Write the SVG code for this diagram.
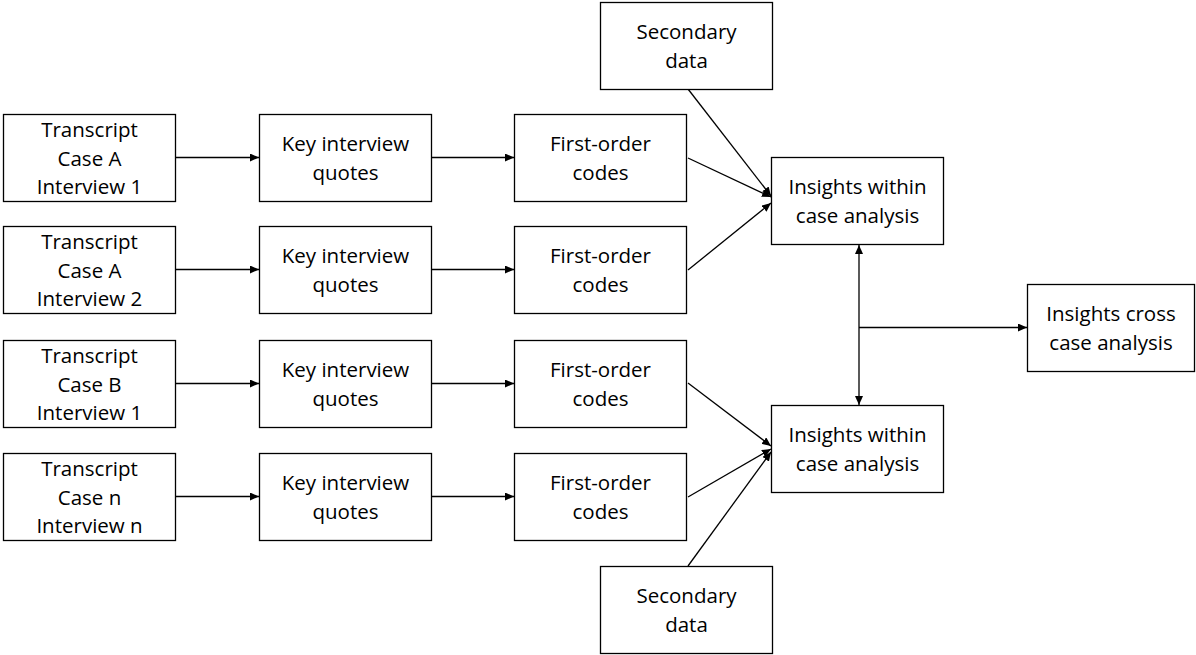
<svg xmlns="http://www.w3.org/2000/svg" width="1196" height="655" viewBox="0 0 1196 655">
<defs>
<style>
.box{fill:#fff;stroke:#000;stroke-width:1.3}
.t{font-family:"Open Sans","Liberation Sans",sans-serif;font-size:20.5px;fill:#000;text-anchor:middle}
.c{stroke:#000;stroke-width:1.3;fill:none;marker-end:url(#ah)}
</style>
<marker id="ah" markerUnits="userSpaceOnUse" markerWidth="9" markerHeight="8" refX="9" refY="4" orient="auto-start-reverse"><path d="M0,0 L9,4 L0,8 z" fill="#000"/></marker>
</defs>
<rect width="1196" height="655" fill="#fff"/>
<g id="connectors">
<line class="c" x1="175" y1="157.5" x2="259" y2="157.5"/>
<line class="c" x1="175" y1="269.5" x2="259" y2="269.5"/>
<line class="c" x1="175" y1="383.5" x2="259" y2="383.5"/>
<line class="c" x1="175" y1="496.5" x2="259" y2="496.5"/>
<line class="c" x1="432" y1="157.5" x2="514" y2="157.5"/>
<line class="c" x1="432" y1="269.5" x2="514" y2="269.5"/>
<line class="c" x1="432" y1="383.5" x2="514" y2="383.5"/>
<line class="c" x1="432" y1="496.5" x2="514" y2="496.5"/>
<line class="c" x1="688" y1="158" x2="771" y2="197"/>
<line class="c" x1="688" y1="89" x2="771" y2="196"/>
<line class="c" x1="688" y1="270" x2="771" y2="203"/>
<line class="c" x1="688" y1="383" x2="771" y2="446"/>
<line class="c" x1="688" y1="497" x2="771" y2="449"/>
<line class="c" x1="688" y1="566" x2="771" y2="452"/>
<line class="c" x1="859" y1="245" x2="859" y2="405" style="marker-start:url(#ah)"/>
<line class="c" x1="859" y1="327.5" x2="1027" y2="327.5"/>
</g>
<g id="transcript-a1"><rect class="box" x="3.5" y="114.5" width="172" height="87"/><text class="t" x="89.5" y="137">Transcript</text><text class="t" x="89.5" y="165.5">Case A</text><text class="t" x="89.5" y="194">Interview 1</text></g>
<g id="transcript-a2"><rect class="box" x="3.5" y="226.5" width="172" height="87"/><text class="t" x="89.5" y="249">Transcript</text><text class="t" x="89.5" y="277.5">Case A</text><text class="t" x="89.5" y="306">Interview 2</text></g>
<g id="transcript-b1"><rect class="box" x="3.5" y="340.5" width="172" height="87"/><text class="t" x="89.5" y="363">Transcript</text><text class="t" x="89.5" y="391.5">Case B</text><text class="t" x="89.5" y="420">Interview 1</text></g>
<g id="transcript-nn"><rect class="box" x="3.5" y="453.5" width="172" height="87"/><text class="t" x="89.5" y="476">Transcript</text><text class="t" x="89.5" y="504.5">Case n</text><text class="t" x="89.5" y="533">Interview n</text></g>
<g id="quotes-1"><rect class="box" x="259.5" y="114.5" width="172" height="87"/><text class="t" x="345.5" y="151">Key interview</text><text class="t" x="345.5" y="179.5">quotes</text></g>
<g id="quotes-2"><rect class="box" x="259.5" y="226.5" width="172" height="87"/><text class="t" x="345.5" y="263">Key interview</text><text class="t" x="345.5" y="291.5">quotes</text></g>
<g id="quotes-3"><rect class="box" x="259.5" y="340.5" width="172" height="87"/><text class="t" x="345.5" y="377">Key interview</text><text class="t" x="345.5" y="405.5">quotes</text></g>
<g id="quotes-4"><rect class="box" x="259.5" y="453.5" width="172" height="87"/><text class="t" x="345.5" y="490">Key interview</text><text class="t" x="345.5" y="518.5">quotes</text></g>
<g id="codes-1"><rect class="box" x="514.5" y="114.5" width="172" height="87"/><text class="t" x="600.5" y="151">First-order</text><text class="t" x="600.5" y="179.5">codes</text></g>
<g id="codes-2"><rect class="box" x="514.5" y="226.5" width="172" height="87"/><text class="t" x="600.5" y="263">First-order</text><text class="t" x="600.5" y="291.5">codes</text></g>
<g id="codes-3"><rect class="box" x="514.5" y="340.5" width="172" height="87"/><text class="t" x="600.5" y="377">First-order</text><text class="t" x="600.5" y="405.5">codes</text></g>
<g id="codes-4"><rect class="box" x="514.5" y="453.5" width="172" height="87"/><text class="t" x="600.5" y="490">First-order</text><text class="t" x="600.5" y="518.5">codes</text></g>
<g id="secondary-top"><rect class="box" x="600.5" y="2.5" width="172" height="87"/><text class="t" x="686.5" y="39">Secondary</text><text class="t" x="686.5" y="67.5">data</text></g>
<g id="secondary-bottom"><rect class="box" x="600.5" y="566.5" width="172" height="87"/><text class="t" x="686.5" y="603">Secondary</text><text class="t" x="686.5" y="631.5">data</text></g>
<g id="insights-within-1"><rect class="box" x="771.5" y="157.5" width="172" height="87"/><text class="t" x="857.5" y="194">Insights within</text><text class="t" x="857.5" y="222.5">case analysis</text></g>
<g id="insights-within-2"><rect class="box" x="771.5" y="405.5" width="172" height="87"/><text class="t" x="857.5" y="442">Insights within</text><text class="t" x="857.5" y="470.5">case analysis</text></g>
<g id="insights-cross"><rect class="box" x="1027.5" y="284.5" width="167" height="87"/><text class="t" x="1111" y="321">Insights cross</text><text class="t" x="1111" y="349.5">case analysis</text></g>
</svg>
